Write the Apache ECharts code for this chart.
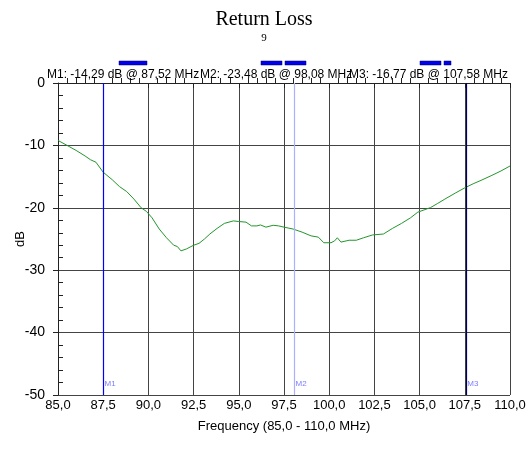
<!DOCTYPE html>
<html>
<head>
<meta charset="utf-8">
<script src="https://cdn.jsdelivr.net/npm/echarts@6/dist/echarts.min.js"></script>
<style>
  html, body { margin: 0; padding: 0; background: #fff; }
  #main { width: 528px; height: 451px; }
</style>
</head>
<body>
<div id="main"></div>
<script>
// measured return loss trace (MHz, dB)
var freq = [85.0, 85.5, 86.0, 86.5, 86.8, 87.1, 87.5, 88.0, 88.4, 88.8, 89.2, 89.6, 89.9, 90.2, 90.6,
  91.0, 91.4, 91.6, 91.8, 92.1, 92.5, 92.8, 93.1, 93.4, 93.8, 94.2, 94.7, 95.0, 95.4, 95.7,
  96.0, 96.2, 96.5, 96.9, 97.2, 97.5, 98.0, 98.5, 99.0, 99.4, 99.7, 100.1, 100.3, 100.45, 100.65,
  101.1, 101.5, 101.9, 102.4, 103.0, 103.5, 104.0, 104.5, 104.9, 105.6, 106.0, 106.4, 107.0, 107.5,
  108.0, 108.4, 109.0, 109.5, 110.0];
var returnLoss = [-9.2, -10.0, -10.8, -11.7, -12.3, -12.7, -14.3, -15.5, -16.6, -17.4, -18.6, -20.0, -20.6, -21.6, -23.4,
  -24.8, -26.0, -26.2, -26.9, -26.6, -26.0, -25.7, -25.0, -24.2, -23.3, -22.5, -22.1, -22.2, -22.3, -22.9,
  -22.9, -22.75, -23.1, -22.8, -22.9, -23.1, -23.4, -23.9, -24.5, -24.7, -25.6, -25.6, -25.3, -24.8, -25.5,
  -25.2, -25.2, -24.8, -24.35, -24.2, -23.3, -22.5, -21.6, -20.7, -19.97, -19.3, -18.6, -17.6, -16.8,
  -16.1, -15.6, -14.8, -14.1, -13.3];

var markerNames = ['M1', 'M2', 'M3'];
var markerFreqs = [87.52, 98.08, 107.58];
var markerValues = [-14.29, -23.48, -16.77];
var markerColors = ['#0000ff', '#aeb0ff', '#00005a'];

function comma(v, d) { return v.toFixed(d).replace('.', ','); }

var chart = echarts.init(document.getElementById('main'));

var font = "'Liberation Sans', Arial, sans-serif";
var gridColor = '#444';

var readouts = markerNames.map(function (n, i) {
  return {
    type: 'text', left: [47, 200, 349][i], top: 69, z: 10,
    style: { text: n + ': ' + comma(markerValues[i], 2) + ' dB @ ' + comma(markerFreqs[i], 2) + ' MHz',
      font: '12px ' + font, fill: '#000' }
  };
});
var bars = [[119, 28], [261, 21], [285, 21], [420, 21], [444, 7]].map(function (b) {
  return { type: 'rect', shape: { x: b[0], y: 61, width: b[1], height: 4 },
    style: { fill: '#0000ee', stroke: '#000060', lineWidth: 0.5 } };
});

chart.setOption({
  animation: false,
  backgroundColor: '#fff',
  title: {
    text: 'Return Loss',
    subtext: '9',
    left: 'center',
    top: 5,
    itemGap: 3,
    textStyle: { fontFamily: "'Liberation Serif', 'Times New Roman', serif", fontWeight: 'normal', fontSize: 20, color: '#000' },
    subtextStyle: { fontFamily: "'Liberation Serif', 'Times New Roman', serif", fontSize: 11, color: '#000' }
  },
  graphic: readouts.concat(bars),
  grid: { left: 58, right: 18, top: 83, bottom: 56, containLabel: false, outerBoundsMode: 'none' },
  xAxis: [{
    type: 'value', min: 85, max: 110, interval: 2.5, position: 'bottom', offset: 0,
    name: 'Frequency (85,0 - 110,0 MHz)', nameLocation: 'middle', nameGap: 25, nameMoveOverlap: false,
    nameTextStyle: { fontFamily: font, fontSize: 13, color: '#000' },
    axisLine: { show: true, lineStyle: { color: '#222', width: 1 } },
    axisTick: { show: true, length: 5, lineStyle: { color: '#222' } },
    axisLabel: { margin: 4, fontFamily: font, fontSize: 13, color: '#000',
      formatter: function (v) { return comma(v, 1); } },
    splitLine: { show: true, lineStyle: { color: gridColor, width: 1 } }
  }, {
    type: 'value', min: 85, max: 110, interval: 2.5, position: 'bottom', offset: 0,
    axisLine: { show: false },
    axisTick: { show: false, inside: true, length: 5 },
    minorTick: { show: true, splitNumber: 5, length: 5, lineStyle: { color: '#222' } },
    axisLabel: { show: false },
    splitLine: { show: false }
  }],
  yAxis: [{
    type: 'value', min: -50, max: 0, interval: 10, position: 'left', offset: 0,
    name: 'dB', nameLocation: 'middle', nameGap: 31, nameMoveOverlap: false,
    nameTextStyle: { fontFamily: font, fontSize: 13, color: '#000' },
    axisLine: { show: true, lineStyle: { color: '#222', width: 1 } },
    axisTick: { show: true, length: 5, lineStyle: { color: '#222' } },
    axisLabel: { margin: 13, fontFamily: font, fontSize: 14, color: '#000' },
    splitLine: { show: true, lineStyle: { color: gridColor, width: 1 } }
  }, {
    type: 'value', min: -50, max: 0, interval: 10, position: 'left', offset: 0,
    axisLine: { show: false },
    axisTick: { show: false, inside: true, length: 5 },
    minorTick: { show: true, splitNumber: 5, length: 5, lineStyle: { color: '#222' } },
    axisLabel: { show: false },
    splitLine: { show: false }
  }],
  series: [{
    type: 'line',
    data: freq.map(function (f, i) { return [f, returnLoss[i]]; }),
    showSymbol: false,
    lineStyle: { color: '#23962a', width: 1 },
    z: 3,
    markLine: {
      silent: true,
      symbol: 'none',
      z: 5,
      label: { show: false },
      data: markerFreqs.map(function (f, i) {
        return { xAxis: f, lineStyle: { color: markerColors[i], width: 1.2, type: 'solid' } };
      })
    }
  }, {
    type: 'scatter',
    data: markerFreqs.map(function (f, i) { return { value: [f, -50], name: markerNames[i] }; }),
    symbolSize: 0,
    label: { show: true, position: 'right', offset: [-4, -11], formatter: '{b}',
      fontFamily: font, fontSize: 8, color: '#5a5aff' }
  }]
});
</script>
</body>
</html>
